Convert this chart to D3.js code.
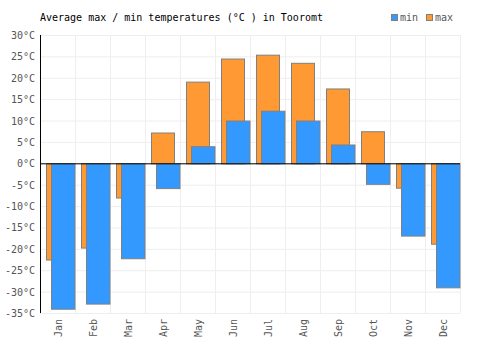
<!DOCTYPE html>
<html>
<head>
<meta charset="utf-8">
<script src="https://cdn.jsdelivr.net/npm/d3@7"></script>
<style>
body { margin: 0; background: #fff; }
text { font-family: "DejaVu Sans Mono", monospace; }
</style>
</head>
<body>
<script>
var months = ["Jan","Feb","Mar","Apr","May","Jun","Jul","Aug","Sep","Oct","Nov","Dec"]
var maxTemps = [-22.5, -19.7, -8, 7.2, 19.1, 24.5, 25.4, 23.5, 17.5, 7.5, -5.7, -18.8]
var minTemps = [-34, -32.8, -22.2, -5.8, 4, 10, 12.3, 10, 4.4, -4.8, -16.9, -29]
var yTicks = [30, 25, 20, 15, 10, 5, 0, -5, -10, -15, -20, -25, -30, -35]

var width = 500
var height = 350
var plotLeft = 40, plotRight = 460, plotTop = 35, plotBottom = 313

var svg = d3.select("body")
    .append("svg")
    .attr("width", width)
    .attr("height", height);

var x_scale = d3.scaleBand()
    .domain(months)
    .range([plotLeft, plotRight]);

var y_scale = d3.scaleLinear()
    .domain([-35, 30])
    .range([plotBottom, plotTop]);

// grid
svg.append("g").selectAll("line")
    .data(yTicks)
    .enter().append("line")
    .attr("x1", plotLeft).attr("x2", plotRight)
    .attr("y1", d => y_scale(d) + 0.5).attr("y2", d => y_scale(d) + 0.5)
    .attr("stroke", "#eeeeee");

svg.append("g").selectAll("line")
    .data(months)
    .enter().append("line")
    .attr("x1", d => x_scale(d) + x_scale.bandwidth() + 0.5)
    .attr("x2", d => x_scale(d) + x_scale.bandwidth() + 0.5)
    .attr("y1", plotTop).attr("y2", plotBottom)
    .attr("stroke", "#eeeeee");

var bw = x_scale.bandwidth()

// max bars (orange)
svg.append("g").selectAll("rect")
    .data(maxTemps)
    .enter().append("rect")
    .attr("x", (d, i) => x_scale(months[i]) + 6.5)
    .attr("width", 23)
    .attr("y", d => y_scale(Math.max(0, d)) + 0.5)
    .attr("height", d => Math.abs(y_scale(d) - y_scale(0)))
    .attr("fill", "#ff9933")
    .attr("stroke", "#808080");

// min bars (blue)
svg.append("g").selectAll("rect")
    .data(minTemps)
    .enter().append("rect")
    .attr("x", (d, i) => x_scale(months[i]) + 11.5)
    .attr("width", 23.5)
    .attr("y", d => y_scale(Math.max(0, d)) + 0.5)
    .attr("height", d => Math.abs(y_scale(d) - y_scale(0)))
    .attr("fill", "#3399ff")
    .attr("stroke", "#808080");

// zero line
svg.append("line")
    .attr("x1", plotLeft).attr("x2", plotRight)
    .attr("y1", y_scale(0) + 0.5).attr("y2", y_scale(0) + 0.5)
    .attr("stroke", "#000");

// left axis line
svg.append("line")
    .attr("x1", plotLeft + 0.5).attr("x2", plotLeft + 0.5)
    .attr("y1", plotTop).attr("y2", plotBottom)
    .attr("stroke", "#000");

// y labels
svg.append("g").selectAll("text")
    .data(yTicks)
    .enter().append("text")
    .attr("x", plotLeft - 5)
    .attr("y", d => y_scale(d) + 4)
    .attr("text-anchor", "end")
    .attr("font-size", 10)
    .attr("fill", "#555")
    .text(d => d + "°C");

// x labels
svg.append("g").selectAll("text")
    .data(months)
    .enter().append("text")
    .attr("transform", d => "translate(" + (x_scale(d) + bw / 2 + 4) + "," + (plotBottom + 6) + ") rotate(-90)")
    .attr("text-anchor", "end")
    .attr("font-size", 10)
    .attr("fill", "#555")
    .text(d => d);

// title
svg.append("text")
    .attr("x", 40)
    .attr("y", 21)
    .attr("font-size", 10)
    .attr("fill", "#000")
    .text("Average max / min temperatures (°C ) in Tooromt");

// legend
var legend = [["min", "#3399ff", 391], ["max", "#ff9933", 426]]
legend.forEach(function (l) {
    svg.append("rect")
        .attr("x", l[2] + 0.5).attr("y", 14.5)
        .attr("width", 6).attr("height", 6)
        .attr("fill", l[1]).attr("stroke", "#808080");
    svg.append("text")
        .attr("x", l[2] + 9).attr("y", 21)
        .attr("font-size", 10)
        .attr("fill", "#555")
        .text(l[0]);
});
</script>
</body>
</html>
